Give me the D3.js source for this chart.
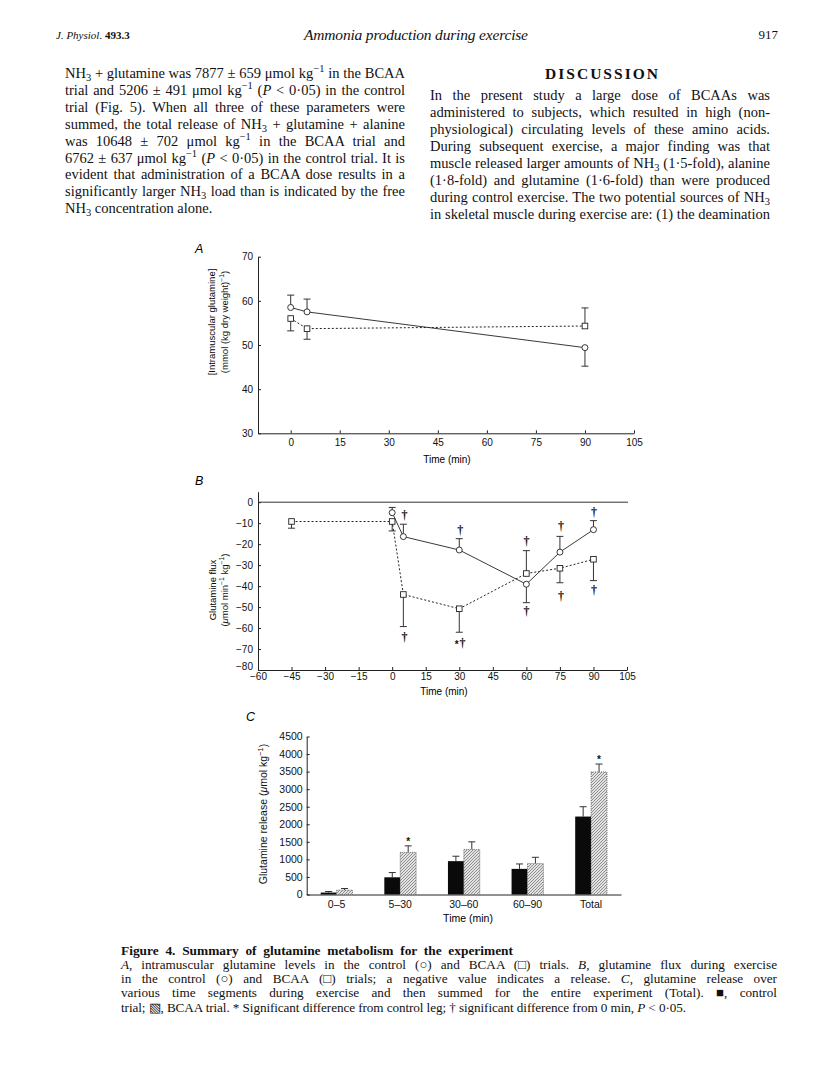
<!DOCTYPE html>
<html>
<head>
<meta charset="utf-8">
<script src="https://cdn.jsdelivr.net/npm/d3@7"></script>
<style>
  body { margin: 0; background: #fff; }
  svg { display: block; }
</style>
</head>
<body>
<script>
// ---- panel A: intramuscular glutamine (mmol (kg dry wt)^-1)
const timeA = [0, 5, 90]
const controlA = [58.5, 57.5, 49.4]
const controlErrA = [2.8, 2.9, 4.2]
const bcaaA = [56.0, 53.7, 54.3]
const bcaaErrA = [2.8, 2.4, 4.1]
const ticksAx = [0, 15, 30, 45, 60, 75, 90, 105]
const ticksAy = [30, 40, 50, 60, 70]

// ---- panel B: glutamine flux (umol min^-1 kg^-1)
const timeBControl = [0, 5, 30, 60, 75, 90]
const controlB = [-5.0, -16.4, -22.8, -39.1, -23.8, -13.1]
const controlErrB = [2.5, 5.9, 5.4, 8.8, 7.5, 4.3]
const timeBBcaa = [-45, 0, 5, 30, 60, 75, 90]
const bcaaB = [-9.2, -9.2, -44.0, -50.8, -34.0, -31.5, -27.2]
const bcaaErrB = [3.2, 4.5, 15.3, 11.2, 10.9, 6.9, 10.2]
const ticksBx = [-60, -45, -30, -15, 0, 15, 30, 45, 60, 75, 90, 105]
const ticksBy = [0, -10, -20, -30, -40, -50, -60, -70, -80]
// significance marks, [time, flux]
const daggersB = [[5.5, -6], [30.4, -13.2], [60.1, -18.2], [75.5, -11.2], [90.2, -4.5],
  [5.5, -64.2], [31.4, -67.2], [60.1, -52], [75.5, -44.5], [90.2, -42]]
const starsB = [[28.9, -66.6]]

// ---- panel C: glutamine release (umol kg^-1)
const segmentsC = ['0–5', '5–30', '30–60', '60–90', 'Total']
const controlC = [55, 490, 950, 730, 2220]
const controlErrC = [30, 135, 140, 140, 280]
const bcaaC = [125, 1200, 1280, 880, 3490]
const bcaaErrC = [45, 185, 220, 180, 225]
const starsC = [['5–30', 1570], ['Total', 3910]]
const ticksCy = d3.range(0, 4501, 500)

// ---- page text
const leftLines = [
  'NH_{3} + glutamine was 7877 ± 659 μmol kg^{−1} in the BCAA',
  'trial and 5206 ± 491 μmol kg^{−1} (/{P} < 0·05) in the control',
  'trial (Fig. 5). When all three of these parameters were',
  'summed, the total release of NH_{3} + glutamine + alanine',
  'was 10648 ± 702 μmol kg^{−1} in the BCAA trial and',
  '6762 ± 637 μmol kg^{−1} (/{P} < 0·05) in the control trial. It is',
  'evident that administration of a BCAA dose results in a',
  'significantly larger NH_{3} load than is indicated by the free',
  'NH_{3} concentration alone.'
]
const rightLines = [
  'In the present study a large dose of BCAAs was',
  'administered to subjects, which resulted in high (non-',
  'physiological) circulating levels of these amino acids.',
  'During subsequent exercise, a major finding was that',
  'muscle released larger amounts of NH_{3} (1·5-fold), alanine',
  '(1·8-fold) and glutamine (1·6-fold) than were produced',
  'during control exercise. The two potential sources of NH_{3}',
  'in skeletal muscle during exercise are: (1) the deamination'
]
const captionLines = [
  '/{A}, intramuscular glutamine levels in the control (○) and BCAA (□) trials. /{B}, glutamine flux during exercise',
  'in the control (○) and BCAA (□) trials; a negative value indicates a release. /{C}, glutamine release over',
  'various time segments during exercise and then summed for the entire experiment (Total). ■, control',
  'trial; ▧, BCAA trial. * Significant difference from control leg; † significant difference from 0 min, /{P} < 0·05.'
]

const SANS = '"Liberation Sans", Arial, Helvetica, sans-serif'
const SERIF = '"Liberation Serif", "Times New Roman", serif'

const svg = d3.select('body').append('svg')
  .attr('width', 816).attr('height', 1065)
  .style('background', '#fff')

const defs = svg.append('defs')
const pat = defs.append('pattern')
  .attr('id', 'hatch')
  .attr('patternUnits', 'userSpaceOnUse')
  .attr('width', 3).attr('height', 3)
pat.append('rect').attr('width', 3).attr('height', 3).attr('fill', '#e2e2e2')
pat.append('path')
  .attr('d', 'M-1,1 l2,-2 M0,3 l3,-3 M2,4 l2,-2')
  .attr('stroke', '#7a7a7a').attr('stroke-width', 0.8)

// small markup: ^{sup} _{sub} /{italic} *{bold}
function richText (g, str, x, y, fs, opts = {}) {
  const t = g.append('text')
    .attr('x', x).attr('y', y)
    .attr('font-family', opts.family || SERIF)
    .attr('font-size', fs)
    .attr('fill', '#111')
  if (opts.anchor) t.attr('text-anchor', opts.anchor)
  if (opts.weight) t.attr('font-weight', opts.weight)
  if (opts.style) t.attr('font-style', opts.style)
  let shift = 0
  let plain = ''
  str.split(/(\^\{[^}]*\}|_\{[^}]*\}|\/\{[^}]*\}|\*\{[^}]*\})/).forEach(piece => {
    if (!piece) return
    let kind = ''
    let txt = piece
    if (/^[\^_/*]\{/.test(piece)) {
      kind = piece[0]
      txt = piece.slice(2, -1)
    }
    plain += txt
    const target = kind === '^' ? -0.38 * fs : kind === '_' ? 0.22 * fs : 0
    const ts = t.append('tspan').text(txt)
    if (target !== shift) ts.attr('dy', target - shift)
    shift = target
    if (kind === '^' || kind === '_') ts.attr('font-size', fs * 0.72)
    if (kind === '/') ts.attr('font-style', 'italic')
    if (kind === '*') ts.attr('font-weight', 'bold')
  })
  if (opts.width) {
    // justify by widening the word gaps
    const natural = t.node().getComputedTextLength()
    const gaps = (plain.match(/ /g) || []).length
    if (gaps && natural < opts.width) {
      t.style('word-spacing', ((opts.width - natural) / gaps) + 'px')
    } else {
      t.attr('textLength', opts.width).attr('lengthAdjust', 'spacing')
    }
  }
  if (opts.fit) t.attr('textLength', opts.fit).attr('lengthAdjust', 'spacing')
  return t
}

// ---- header
const page = svg.append('g')
richText(page, '/{J. Physiol.} *{493.3}', 56, 39, 11)
richText(page, 'Ammonia production during exercise', 416, 40, 15.5,
  { anchor: 'middle', style: 'italic', fit: 224 })
richText(page, '917', 778, 39, 13, { anchor: 'end' })

leftLines.forEach((l, i) => {
  const last = i === leftLines.length - 1
  richText(page, l, 65, 78 + i * 16.9, 14.5, last ? {} : { width: 340 })
})
richText(page, 'DISCUSSION', 601.5, 79, 15.5, { anchor: 'middle', weight: 'bold', fit: 113 })
rightLines.forEach((l, i) => {
  richText(page, l, 430, 99.5 + i * 17.1, 14.5, { width: 340 })
})

richText(page, 'Figure 4. Summary of glutamine metabolism for the experiment', 121, 954.5, 13.4,
  { weight: 'bold', width: 392 })
captionLines.forEach((l, i) => {
  const w = i === captionLines.length - 1 ? 565 : 656
  richText(page, l, 121, 969 + i * 14.2, 13.2, { width: w })
})

// ---- shared bits
function styleAxis (g, fs) {
  g.attr('font-family', SANS).attr('font-size', fs)
  g.selectAll('path, line').attr('stroke', '#222').attr('stroke-width', 1)
  g.selectAll('text').attr('fill', '#111')
}
const minus = d => d < 0 ? '−' + Math.abs(d) : String(d)

function errorBars (g, x, y, xs, vals, errs, sides, cap) {
  xs.forEach((t, i) => {
    const end = vals[i] + sides[i] * errs[i]
    g.append('line')
      .attr('x1', x(t)).attr('x2', x(t))
      .attr('y1', y(vals[i])).attr('y2', y(end))
      .attr('stroke', '#333').attr('stroke-width', 1)
    g.append('line')
      .attr('x1', x(t) - cap).attr('x2', x(t) + cap)
      .attr('y1', y(end)).attr('y2', y(end))
      .attr('stroke', '#333').attr('stroke-width', 1)
  })
}

function series (g, x, y, xs, vals, dashed, marker) {
  const pts = xs.map((t, i) => [t, vals[i]])
  g.append('path')
    .datum(pts)
    .attr('fill', 'none')
    .attr('stroke', '#222')
    .attr('stroke-width', dashed ? 1 : 0.9)
    .attr('stroke-dasharray', dashed ? '2,2' : null)
    .attr('d', d3.line().x(d => x(d[0])).y(d => y(d[1])))
  const m = g.append('g').selectAll(marker).data(pts).join(marker)
  if (marker === 'circle') {
    m.attr('cx', d => x(d[0])).attr('cy', d => y(d[1])).attr('r', 3)
  } else {
    m.attr('x', d => x(d[0]) - 2.8).attr('y', d => y(d[1]) - 2.8)
      .attr('width', 5.6).attr('height', 5.6)
  }
  m.attr('fill', '#fff').attr('stroke', '#222').attr('stroke-width', 0.9)
}

// ---- panel A
const gA = svg.append('g')
const xA = d3.scaleLinear().domain([-10, 105]).range([258, 634])
const yA = d3.scaleLinear().domain([30, 70]).range([433.3, 256.7])

gA.append('g').attr('transform', `translate(0,${yA(30)})`)
  .call(d3.axisBottom(xA).tickValues(ticksAx).tickSize(-3).tickSizeOuter(0).tickPadding(6))
  .call(g => styleAxis(g, 10))
gA.append('g').attr('transform', `translate(${xA(-10)},0)`)
  .call(d3.axisLeft(yA).tickValues(ticksAy).tickSize(-3).tickSizeOuter(0).tickPadding(5))
  .call(g => styleAxis(g, 10))

errorBars(gA, xA, yA, timeA, controlA, controlErrA, [1, 1, -1], 3.5)
errorBars(gA, xA, yA, timeA, bcaaA, bcaaErrA, [-1, -1, 1], 3.5)
series(gA, xA, yA, timeA, controlA, false, 'circle')
series(gA, xA, yA, timeA, bcaaA, true, 'rect')

gA.append('text').attr('x', 195).attr('y', 253)
  .attr('font-family', SANS).attr('font-size', 12.5).attr('font-style', 'italic').text('A')
gA.append('text').attr('x', 447).attr('y', 463)
  .attr('font-family', SANS).attr('font-size', 10).attr('text-anchor', 'middle').text('Time (min)')
const tA = gA.append('g').attr('transform', 'translate(0,322) rotate(-90)')
  .attr('font-family', SANS).attr('font-size', 9.5).attr('text-anchor', 'middle')
tA.append('text').attr('x', 0).attr('y', 215).text('[Intramuscular glutamine]')
richText(tA, '(mmol (kg dry weight)^{−1})', 0, 228, 9.5, { family: SANS, anchor: 'middle' })

// ---- panel B
const gB = svg.append('g')
const xB = d3.scaleLinear().domain([-60, 105]).range([258, 627])
const yB = d3.scaleLinear().domain([-80, 5]).range([670, 491.7])

gB.append('g').attr('transform', `translate(0,${yB(-80)})`)
  .call(d3.axisBottom(xB).tickValues(ticksBx).tickFormat(minus).tickSize(-3).tickSizeOuter(0).tickPadding(3))
  .call(g => styleAxis(g, 10))
gB.append('g').attr('transform', `translate(${xB(-60)},0)`)
  .call(d3.axisLeft(yB).tickValues(ticksBy).tickFormat(minus).tickSize(-3).tickSizeOuter(0).tickPadding(5))
  .call(g => styleAxis(g, 10))
  .call(g => g.selectAll('.tick text').filter(d => d === -80).attr('dy', '-0.1em'))

gB.append('line')
  .attr('x1', xB(-60)).attr('x2', xB(105) + 1)
  .attr('y1', yB(0)).attr('y2', yB(0))
  .attr('stroke', '#333').attr('stroke-width', 1)

errorBars(gB, xB, yB, timeBControl, controlB, controlErrB, [1, 1, 1, -1, 1, 1], 3.5)
errorBars(gB, xB, yB, timeBBcaa, bcaaB, bcaaErrB, [-1, -1, -1, -1, 1, -1, -1], 3.5)
series(gB, xB, yB, timeBBcaa, bcaaB, true, 'rect')
series(gB, xB, yB, timeBControl, controlB, false, 'circle')

gB.append('g').selectAll('text').data(daggersB).join('text')
  .attr('x', d => xB(d[0])).attr('y', d => yB(d[1]))
  .attr('dy', '0.35em').attr('text-anchor', 'middle')
  .attr('font-family', SERIF).attr('font-size', 12).attr('font-weight', 'bold')
  .attr('fill', '#111')
  .text('†')
gB.append('g').selectAll('text').data(starsB).join('text')
  .attr('x', d => xB(d[0])).attr('y', d => yB(d[1]))
  .attr('dy', '0.6em').attr('text-anchor', 'middle')
  .attr('font-family', SANS).attr('font-size', 10).attr('font-weight', 'bold')
  .attr('fill', '#111')
  .text('*')

gB.append('text').attr('x', 195).attr('y', 485)
  .attr('font-family', SANS).attr('font-size', 12.5).attr('font-style', 'italic').text('B')
gB.append('text').attr('x', 444).attr('y', 695)
  .attr('font-family', SANS).attr('font-size', 10).attr('text-anchor', 'middle').text('Time (min)')
const tB = gB.append('g').attr('transform', 'translate(0,590) rotate(-90)')
  .attr('font-family', SANS).attr('font-size', 9.5).attr('text-anchor', 'middle')
tB.append('text').attr('x', 0).attr('y', 216).text('Glutamine flux')
richText(tB, '(/{μ}mol min^{−1} kg^{−1})', 0, 228, 9.5, { family: SANS, anchor: 'middle' })

// ---- panel C
const gC = svg.append('g')
const xC = d3.scaleBand().domain(segmentsC).range([306.7, 621]).paddingInner(0.5).paddingOuter(0.22)
const yC = d3.scaleLinear().domain([0, 4500]).range([894.5, 736.5])
const bw = xC.bandwidth() / 2

gC.append('g').attr('transform', `translate(0,${yC(0)})`)
  .call(d3.axisBottom(xC).tickSize(0).tickSizeOuter(0).tickPadding(6))
  .call(g => styleAxis(g, 10.5))
gC.append('g').attr('transform', 'translate(306.7,0)')
  .call(d3.axisLeft(yC).tickValues(ticksCy).tickFormat(d3.format('d')).tickSize(-3).tickSizeOuter(0).tickPadding(4))
  .call(g => styleAxis(g, 10.5))

const barsC = segmentsC.map((s, i) => ({ s, c: controlC[i], ce: controlErrC[i], b: bcaaC[i], be: bcaaErrC[i] }))
const grp = gC.append('g').selectAll('g').data(barsC).join('g')
grp.append('line')
  .attr('x1', d => xC(d.s) + bw / 2).attr('x2', d => xC(d.s) + bw / 2)
  .attr('y1', d => yC(d.c)).attr('y2', d => yC(d.c + d.ce))
  .attr('stroke', '#333')
grp.append('line')
  .attr('x1', d => xC(d.s) + bw / 2 - 3.5).attr('x2', d => xC(d.s) + bw / 2 + 3.5)
  .attr('y1', d => yC(d.c + d.ce)).attr('y2', d => yC(d.c + d.ce))
  .attr('stroke', '#333')
grp.append('line')
  .attr('x1', d => xC(d.s) + bw * 1.5).attr('x2', d => xC(d.s) + bw * 1.5)
  .attr('y1', d => yC(d.b)).attr('y2', d => yC(d.b + d.be))
  .attr('stroke', '#333')
grp.append('line')
  .attr('x1', d => xC(d.s) + bw * 1.5 - 3.5).attr('x2', d => xC(d.s) + bw * 1.5 + 3.5)
  .attr('y1', d => yC(d.b + d.be)).attr('y2', d => yC(d.b + d.be))
  .attr('stroke', '#333')
grp.append('rect')
  .attr('x', d => xC(d.s)).attr('width', bw)
  .attr('y', d => yC(d.c)).attr('height', d => yC(0) - yC(d.c))
  .attr('fill', '#0a0a0a')
grp.append('rect')
  .attr('x', d => xC(d.s) + bw).attr('width', bw)
  .attr('y', d => yC(d.b)).attr('height', d => yC(0) - yC(d.b))
  .attr('fill', 'url(#hatch)')
  .attr('stroke', '#555').attr('stroke-width', 0.8).attr('stroke-dasharray', '1,1')

gC.append('g').selectAll('text').data(starsC).join('text')
  .attr('x', d => xC(d[0]) + bw * 1.5).attr('y', d => yC(d[1]))
  .attr('dy', '0.6em').attr('text-anchor', 'middle')
  .attr('font-family', SANS).attr('font-size', 10).attr('font-weight', 'bold')
  .attr('fill', '#111')
  .text('*')

gC.append('text').attr('x', 246).attr('y', 721)
  .attr('font-family', SANS).attr('font-size', 12.5).attr('font-style', 'italic').text('C')
gC.append('text').attr('x', 468).attr('y', 922)
  .attr('font-family', SANS).attr('font-size', 10.5).attr('text-anchor', 'middle').text('Time (min)')
const tC = gC.append('g').attr('transform', 'translate(0,814) rotate(-90)')
  .attr('font-family', SANS).attr('font-size', 10.5).attr('text-anchor', 'middle')
richText(tC, 'Glutamine release (/{μ}mol kg^{−1})', 0, 267, 10.5, { family: SANS, anchor: 'middle' })
</script>
</body>
</html>
